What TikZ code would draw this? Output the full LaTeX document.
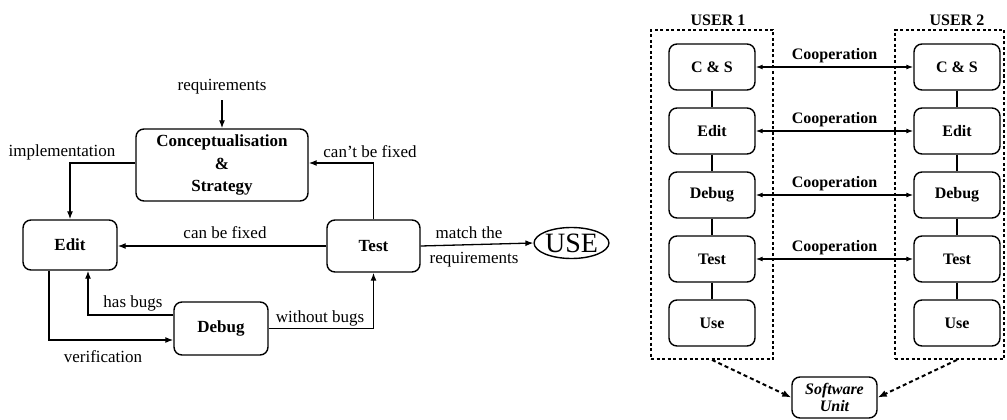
\documentclass[tikz,border=0pt]{standalone}
\usepackage{fontspec}
\setmainfont{Liberation Serif}
\usetikzlibrary{arrows.meta,shapes.geometric}

\tikzset{
  lbl/.style={font=\fontsize{17}{20}\selectfont, inner sep=0pt},
  stage/.style={draw, line width=1.4pt, rounded corners=8pt, align=center,
                font=\fontsize{17}{21}\selectfont\bfseries, inner sep=0pt},
  flow/.style={line width=1.3pt, -{Latex[length=8pt,width=6pt]}},
  plain/.style={line width=1.3pt},
  ustage/.style={draw, line width=1.4pt, rounded corners=8pt, align=center,
                 minimum width=86pt, minimum height=46pt, inner sep=0pt,
                 font=\fontsize{16}{18}\selectfont\bfseries},
  frame/.style={draw, line width=1.8pt, dash pattern=on 3pt off 2.5pt, inner sep=0pt},
  ulbl/.style={font=\fontsize{16}{18}\selectfont\bfseries, inner sep=0pt},
  coop/.style={line width=1.3pt, {Latex[length=7pt,width=5pt]}-{Latex[length=7pt,width=5pt]}},
  share/.style={line width=2pt, dash pattern=on 4pt off 3pt, -{Latex[length=9pt,width=7pt]}}
}

\begin{document}
\begin{tikzpicture}[x=1pt,y=-1pt]
\useasboundingbox (0,0) rectangle (1007,420);

% ---------- development cycle ----------
\node[lbl] (req) at (222,87) {requirements};
\node[stage, minimum width=172pt, minimum height=72pt,
      font=\fontsize{17}{22.5}\selectfont\bfseries] (cs) at (222,165)
  {Conceptualisation\\\&\\Strategy};
\node[stage, minimum width=94pt, minimum height=50pt] (edit) at (70,245) {Edit};
\node[stage, minimum width=93pt, minimum height=52pt] (test) at (373.5,246) {Test};
\node[stage, minimum width=94pt, minimum height=53pt] (debug) at (221,328.5) {Debug};
\node[draw, ellipse, line width=1.4pt, minimum width=66pt, minimum height=31pt,
      inner sep=0pt, font=\fontsize{28}{28}\selectfont] (use) at (571.5,243) {USE};

\coordinate (reqtop) at (222,100);
\draw[flow] (reqtop) -- (cs.north);
\draw[flow] ([yshift=2pt]cs.west) -| (edit.north);
\node[lbl] (limpl) at (62,152) {implementation};
\draw[flow] (test.north) |- ([yshift=2pt]cs.east);
\node[lbl] (lcant) at (370,152) {can't be fixed};
\draw[flow] (test.west) -- (test.west -| edit.east);
\node[lbl] (lcan) at (225,233) {can be fixed};
\draw[flow] (test.east) -- (use.west);
\node[lbl] (lmatch) at (469,233) {match the};
\node[lbl] (lmreq) at (474,260) {requirements};
\draw[flow] (debug.east) -| (test.south);
\node[lbl] (lwithout) at (320,318) {without bugs};
\draw[flow] ([yshift=13.5pt]debug.west) -| ([xshift=18pt]edit.south);
\node[lbl] (lhas) at (133,303) {has bugs};
\draw[flow] ([xshift=-21pt]edit.south) |- ([yshift=-11.5pt]debug.west);
\node[lbl] (lverif) at (103,357) {verification};

% ---------- two cooperating users ----------
\node[frame, minimum width=122pt, minimum height=329pt] (f1) at (712,194.5) {};
\node[frame, minimum width=109pt, minimum height=329pt] (f2) at (949.5,194.5) {};
\node[ulbl] (user1) at (718,20) {USER 1};
\node[ulbl] (user2) at (957,20) {USER 2};

\foreach \u/\x in {a/712, b/957} {
  \node[ustage] (\u cs)  at (\x,67)  {C \& S};
  \node[ustage] (\u ed)  at (\x,131) {Edit};
  \node[ustage] (\u db)  at (\x,195) {Debug};
  \node[ustage] (\u ts)  at (\x,259) {Test};
  \node[ustage] (\u us)  at (\x,323) {Use};
  \draw[plain] (\u cs) -- (\u ed);
  \draw[plain] (\u ed) -- (\u db);
  \draw[plain] (\u db) -- (\u ts);
  \draw[plain] (\u ts) -- (\u us);
}

\foreach \s in {cs, ed, db, ts} {
  \draw[coop] (a\s.east) -- node[ulbl, above=3pt] {Cooperation} (b\s.west);
}

\node[draw, line width=1.4pt, rounded corners=8pt, align=center,
      minimum width=85pt, minimum height=41pt, inner sep=0pt,
      font=\fontsize{16}{17}\selectfont\bfseries\itshape] (su) at (834.5,397.5)
  {Software\\Unit};
\coordinate (f1out) at (f1.south);
\coordinate (f2out) at (bus |- f2.south);
\draw[share] (f1out) -- (su.west);
\draw[share] (f2out) -- (su.east);
\end{tikzpicture}
\end{document}
